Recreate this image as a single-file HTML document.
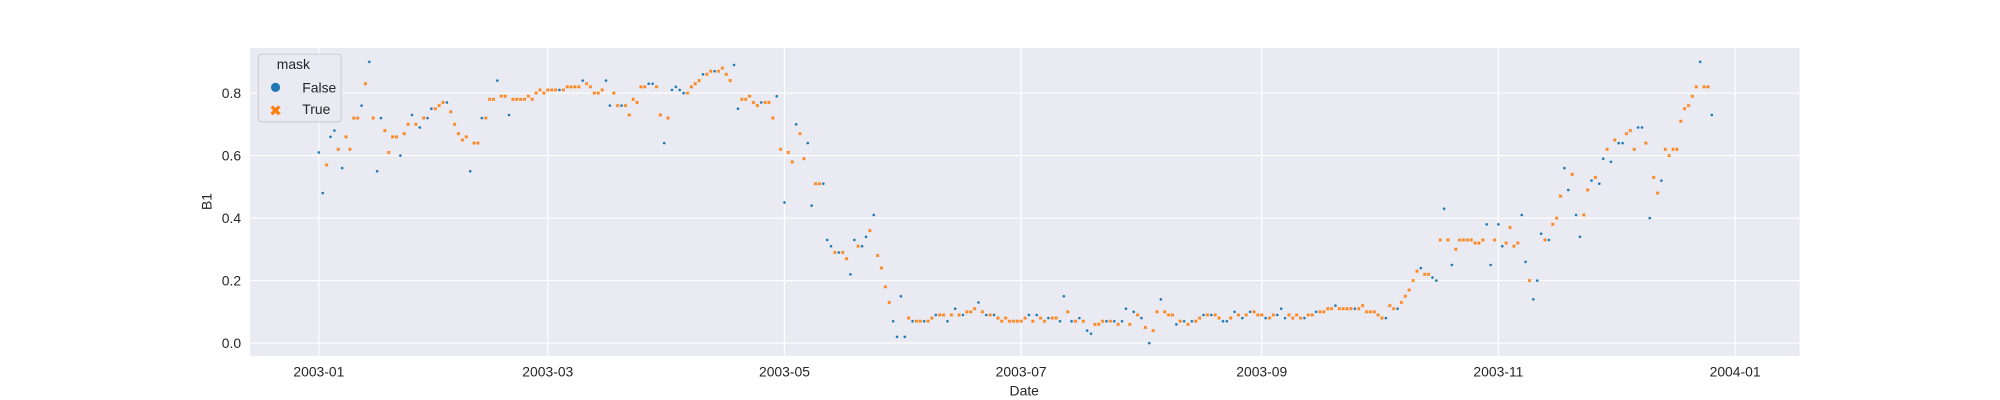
<!DOCTYPE html>
<html><head><meta charset="utf-8"><style>
html,body{margin:0;padding:0;background:#fff;}
svg{display:block;font-family:"Liberation Sans","DejaVu Sans",sans-serif;}
</style></head><body>
<svg id="chart" width="2000" height="400" viewBox="0 0 1568 313.6" xmlns="http://www.w3.org/2000/svg">
<rect x="196" y="37.6" width="1215" height="241.4" fill="#eaeaf2"/>
<g id="grid"></g>
<g id="marks"></g>
<g id="axes"></g>
<text x="803" y="310" font-size="10.9" fill="#262626" text-anchor="middle">Date</text>
<text x="0" y="0" font-size="10.9" fill="#262626" text-anchor="middle" transform="translate(166,158) rotate(-90)">B1</text>
<g>
<rect x="202.5" y="42.5" width="65" height="53" rx="2.5" fill="#eaeaf2" stroke="#cccccc" stroke-width="0.8"/>
<text x="230" y="54" font-size="10.9" fill="#262626" text-anchor="middle">mask</text>
<circle cx="216" cy="68.5" r="3.6" fill="#1f77b4"/>
<text x="237" y="72.5" font-size="10.9" fill="#262626">False</text>
<path d="M213,83.5 L219,89.5 M219,83.5 L213,89.5" stroke="#ff7f0e" stroke-width="2.6"/>
<text x="237" y="89.5" font-size="10.9" fill="#262626">True</text>
</g>
</svg>
<script>
// daily samples starting 2003-01-01 (day 0)
const values = [
.61,.48,.57,.66,.68,.62,.56,.66,.62,.72,.72,.76,.83,.90,.72,.55,.72,.68,.61,.66,.66,.60,.67,.70,.73,.70,.69,.72,.72,.75,
.75,.76,.77,.77,.74,.70,.67,.65,.66,.55,.64,.64,.72,.72,.78,.78,.84,.79,.79,.73,.78,.78,.78,.78,.79,.78,.80,.81,.80,.81,
.81,.81,.81,.81,.82,.82,.82,.82,.84,.83,.82,.80,.80,.81,.84,.76,.80,.76,.76,.76,.73,.78,.77,.82,.82,.83,.83,.82,.73,.64,
.72,.81,.82,.81,.80,.80,.82,.83,.84,.86,.86,.87,.87,.87,.88,.86,.84,.89,.75,.78,.78,.79,.77,.76,.77,.77,.77,.72,.79,.62,
.45,.61,.58,.70,.67,.59,.64,.44,.51,.51,.51,.33,.31,.29,.29,.29,.27,.22,.33,.31,.31,.34,.36,.41,.28,.24,.18,.13,.07,.02,
.15,.02,.08,.07,.07,.07,.07,.07,.08,.09,.09,.09,.07,.09,.11,.09,.09,.10,.10,.11,.13,.10,.09,.09,.09,.08,.07,.08,.07,.07,
.07,.07,.08,.09,.07,.09,.08,.07,.08,.08,.08,.07,.15,.10,.07,.07,.08,.07,.04,.03,.06,.06,.07,.07,.07,.07,.06,.07,.11,.06,
.10,.09,.08,.05,.00,.04,.10,.14,.10,.09,.09,.06,.07,.07,.06,.07,.07,.08,.09,.09,.09,.09,.08,.07,.07,.08,.10,.09,.08,.09,
.10,.10,.09,.09,.08,.08,.09,.09,.11,.08,.09,.08,.09,.08,.08,.09,.09,.10,.10,.10,.11,.11,.12,.11,.11,.11,.11,.11,.11,.12,
.10,.10,.10,.09,.08,.08,.12,.11,.11,.13,.15,.17,.20,.23,.24,.22,.22,.21,.20,.33,.43,.33,.25,.30,.33,.33,.33,.33,.32,.32,
.33,.38,.25,.33,.38,.31,.32,.37,.31,.32,.41,.26,.20,.14,.20,.35,.33,.33,.38,.40,.47,.56,.49,.54,.41,.34,.41,.49,.52,.53,
.51,.59,.62,.58,.65,.64,.64,.67,.68,.62,.69,.69,.64,.40,.53,.48,.52,.62,.60,.62,.62,.71,.75,.76,.79,.82,.90,.82,.82,.73];
const mask = [
0,0,1,0,0,1,0,1,1,1,1,0,1,0,1,0,0,1,1,1,1,0,1,1,0,1,0,1,0,0,
1,1,1,0,1,1,1,1,1,0,1,1,0,1,1,1,0,1,1,0,1,1,1,1,1,1,1,1,1,1,
1,1,0,1,1,1,1,1,0,1,1,1,1,1,0,0,1,1,0,1,1,1,1,1,1,0,0,1,1,0,
1,0,0,0,0,1,1,1,1,0,1,1,0,1,1,1,1,0,0,1,1,1,1,1,0,1,1,1,0,1,
0,1,1,0,1,1,0,0,1,1,0,0,0,1,0,1,1,0,0,1,0,0,1,0,1,1,1,1,0,0,
0,0,1,0,1,1,0,1,1,0,1,1,0,1,0,1,0,1,1,1,0,1,0,1,0,1,1,1,1,1,
1,1,1,0,1,0,1,1,0,1,1,0,0,1,0,1,0,1,0,0,1,1,1,0,1,0,1,0,0,1,
0,1,0,1,0,1,1,0,1,1,1,0,1,0,1,0,1,1,0,1,0,1,1,0,0,1,0,1,0,1,
0,1,1,1,0,1,1,0,0,0,1,1,1,1,0,1,1,0,1,1,1,1,0,1,1,1,1,0,1,1,
1,1,1,1,1,0,1,1,0,1,1,1,1,1,0,1,1,0,0,1,0,1,0,1,1,1,1,1,1,1,
1,0,0,1,0,0,1,1,1,1,0,0,1,0,0,0,1,0,1,1,1,0,0,1,0,0,1,1,0,1,
0,0,1,0,1,0,0,1,1,1,0,0,1,0,1,1,0,1,1,1,1,1,1,1,1,1,0,1,1,0];
const startDate = '2003-01-01';
const yTicks = [0.0, 0.2, 0.4, 0.6, 0.8];
const xTickLabels = ['2003-01','2003-03','2003-05','2003-07','2003-09','2003-11','2004-01'];
const xTickDays = [0, 59, 120, 181, 243, 304, 365];

const NS = 'http://www.w3.org/2000/svg';
const X0 = 196, X1 = 1411, Y0 = 37.6, Y1 = 279;
function xScale(d){ return 250 + d * 3.042; }
function yScale(v){ return 269 - v * 245; }
function mk(tag, attrs, parent){
  const e = document.createElementNS(NS, tag);
  for (const k in attrs) e.setAttribute(k, attrs[k]);
  parent.appendChild(e); return e;
}
const grid = document.getElementById('grid');
const axes = document.getElementById('axes');
const marks = document.getElementById('marks');

yTicks.forEach(t => {
  const y = yScale(t);
  const l = mk('line', {x1:X0, x2:X1, y1:y, y2:y, stroke:'#fff', 'stroke-width':0.9}, grid);
  
  
  const tx = mk('text', {x:189, y:y+3.8, 'font-size':10.9, fill:'#262626', 'text-anchor':'end'}, axes);
  tx.textContent = t.toFixed(1);
  
  
});
xTickDays.forEach((d, i) => {
  const x = xScale(d);
  const l = mk('line', {x1:x, x2:x, y1:Y0, y2:Y1, stroke:'#fff', 'stroke-width':0.9}, grid);
  
  
  const tx = mk('text', {x:x, y:295, 'font-size':10.9, fill:'#262626', 'text-anchor':'middle'}, axes);
  tx.textContent = xTickLabels[i];
  
  
});
const days = values.map((_, i) => i); // consecutive daily samples from startDate
days.forEach((d, i) => {
  const x = xScale(d), y = yScale(values[i]);
  if (mask[i]) {
    const p = mk('path', {d:`M${x-1},${y-1}L${x+1},${y+1}M${x+1},${y-1}L${x-1},${y+1}`, stroke:'#ff7f0e', 'stroke-width':1.2, opacity:0.9}, marks);
    
    
  } else {
    const c = mk('circle', {cx:x, cy:y, r:1.2, fill:'#1f77b4', stroke:'#fff', 'stroke-width':0.25}, marks);
    
    
  }
});
</script>
</body></html>
